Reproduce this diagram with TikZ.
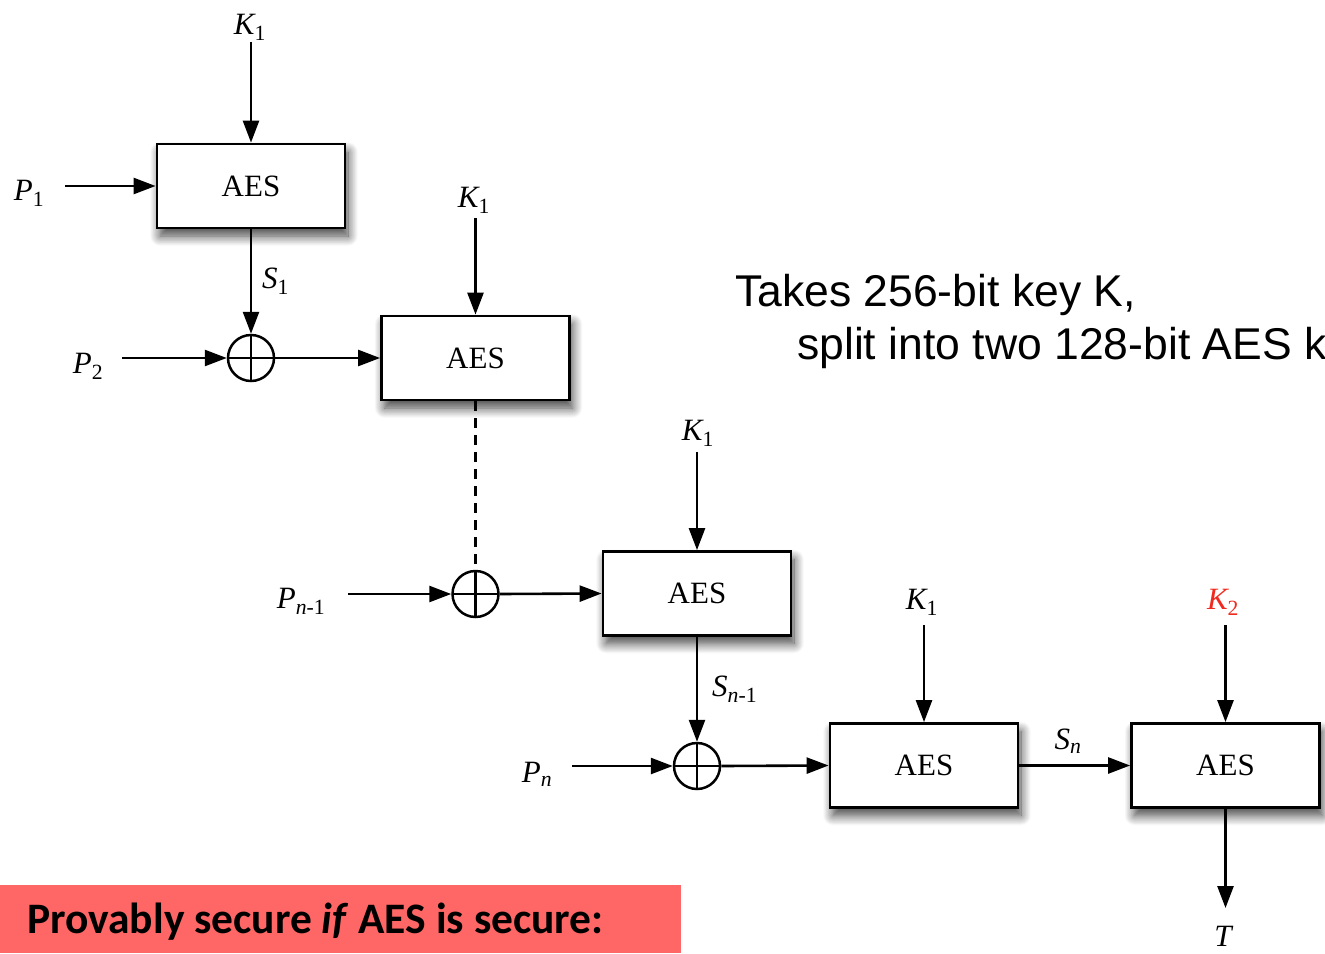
\documentclass[tikz,border=0pt]{standalone}
\usepackage{fontspec}
\setmainfont{Liberation Serif}
\newfontfamily\helv{Liberation Sans}
\newfontfamily\calib{Carlito}
\usetikzlibrary{arrows.meta,shadows.blur}
\definecolor{alertred}{HTML}{FF6666}
\definecolor{keyred}{HTML}{F02A1E}

\begin{document}
\begin{tikzpicture}[x=1pt,y=-1pt,
  aesbox/.style={draw, line width=2.8pt, fill=white, minimum width=188pt,
    minimum height=84pt, inner sep=0pt, font=\fontsize{31}{36}\selectfont,
    blur shadow={shadow xshift=3pt, shadow yshift=-8pt, shadow blur steps=12,
      shadow opacity=75, shadow blur radius=10pt}},
  xorop/.style={circle, draw, line width=2.5pt, minimum size=46pt, inner sep=0pt,
    path picture={\draw[line width=2.5pt]
      (path picture bounding box.north) -- (path picture bounding box.south)
      (path picture bounding box.west) -- (path picture bounding box.east);}},
  sig/.style={font=\fontsize{31}{36}\selectfont\itshape, inner sep=0pt},
  flow/.style={line width=2.6pt, -{Triangle[length=22pt,width=16pt]}},
]
\useasboundingbox (0,0) rectangle (1325,953);

% cipher blocks
\node[aesbox] (b1) at (251,186) {AES};
\node[aesbox] (b2) at (475.5,358) {AES};
\node[aesbox] (b3) at (697,593.5) {AES};
\node[aesbox] (b4) at (924,765.5) {AES};
\node[aesbox] (b5) at (1225.5,765.5) {AES};

% xor gates
\node[xorop] (x1) at (251,358) {};
\node[xorop] (x2) at (475.5,594) {};
\node[xorop] (x3) at (697,766) {};

% signal labels
\node[sig] (lk1a) at (250,27) {K\textsubscript{\upshape 1}};
\node[sig] (lp1) at (29,193) {P\textsubscript{\upshape 1}};
\node[sig, anchor=west] (ls1) at (262,281) {S\textsubscript{\upshape 1}};
\node[sig] (lp2) at (88,366) {P\textsubscript{\upshape 2}};
\node[sig] (lk1b) at (474,200) {K\textsubscript{\upshape 1}};
\node[sig] (lpn1) at (301,601) {P\textsubscript{\textit{n}\upshape -1}};
\node[sig] (lk1c) at (698,433) {K\textsubscript{\upshape 1}};
\node[sig, anchor=west] (lsn1) at (712,689) {S\textsubscript{\textit{n}\upshape -1}};
\node[sig] (lpn) at (537,774) {P\textsubscript{\textit{n}}};
\node[sig] (lk1d) at (922,602) {K\textsubscript{\upshape 1}};
\node[sig] (lsn) at (1068,741) {S\textsubscript{\textit{n}}};
\node[sig, text=keyred] (lk2) at (1223,602) {K\textsubscript{\upshape 2}};
\node[sig] (lt) at (1223,936) {T};

% free ends of the input lines
\coordinate (k1as) at (251,42);
\coordinate (p1s) at (65,186);
\coordinate (p2s) at (122,358);
\coordinate (k1bs) at (475.5,218);
\coordinate (pn1s) at (348,594);
\coordinate (k1cs) at (697,452);
\coordinate (pns) at (572,766);
\coordinate (k1ds) at (924,625);
\coordinate (k2s) at (1225.5,625);
\coordinate (te) at (1225.5,908);

% connectors
\draw[flow] (k1as) -- (b1.north);
\draw[flow] (p1s) -- (b1.west);
\draw[flow] (b1.south) -- (x1.north);
\draw[flow] (p2s) -- (x1.west);
\draw[flow] (x1.east) -- (b2.west);
\draw[flow] (k1bs) -- (b2.north);
\draw[line width=2.4pt, dash pattern=on 10pt off 7pt] (b2.south) -- (x2.north);
\draw[flow] (pn1s) -- (x2.west);
\draw[flow] (x2.east) -- (b3.west);
\draw[flow] (k1cs) -- (b3.north);
\draw[flow] (b3.south) -- (x3.north);
\draw[flow] (pns) -- (x3.west);
\draw[flow] (x3.east) -- (b4.west);
\draw[flow] (k1ds) -- (b4.north);
\draw[flow] (b4.east) -- (b5.west);
\draw[flow] (k2s) -- (b5.north);
\draw[flow] (b5.south) -- (te);

% key note
\node[anchor=base west, inner sep=0pt, font=\helv\fontsize{44.5}{50}\selectfont] (note1) at (735,306) {Takes 256-bit key K,};
\node[anchor=base west, inner sep=0pt, font=\helv\fontsize{44.5}{50}\selectfont] (note2) at (797,359) {split into two 128-bit AES k};

% security banner
\fill[alertred] (0,885) rectangle (681,953);
\node[anchor=base west, inner sep=0pt, font=\calib\bfseries\fontsize{43.5}{50}\selectfont] (banner) at (27,933) {Provably secure \textit{if} AES is secure:};
\end{tikzpicture}
\end{document}
